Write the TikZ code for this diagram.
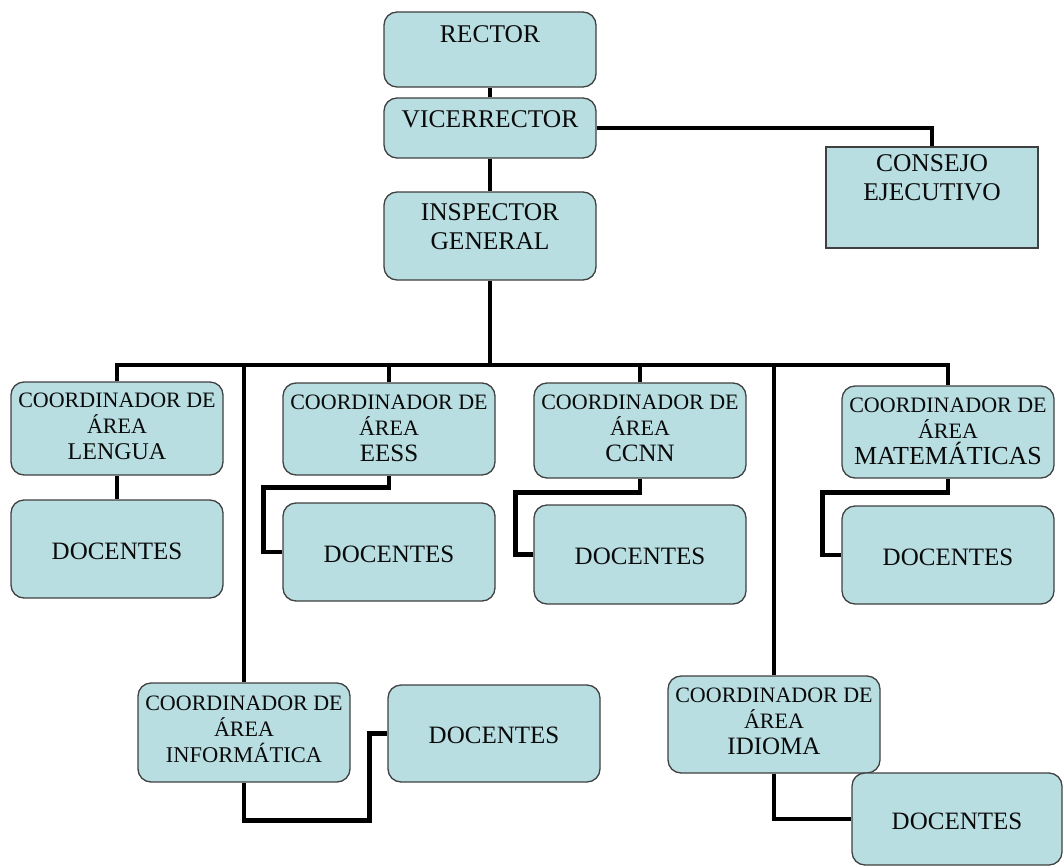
\documentclass[tikz,border=0pt]{standalone}
\usepackage{fontspec}
\setmainfont{Liberation Serif}
\definecolor{boxfill}{RGB}{184,222,226}
\definecolor{boxline}{RGB}{64,64,64}
\definecolor{txt}{RGB}{10,10,10}
\newcommand{\bxt}[4]{\parbox[c][#2][t]{#1}{\centering\vspace*{#3}#4\par}}
\newcommand{\bxc}[3]{\parbox[c][#2][c]{#1}{\centering\vspace*{4pt}#3\par}}
\newcommand{\bigf}{\fontsize{25.5}{29}\selectfont}
\newcommand{\coordf}{\fontsize{22}{26}\selectfont}
\newcommand{\docf}{\fontsize{25}{29}\selectfont}
\newcommand{\lastl}[2]{{\fontsize{#1}{26}\selectfont #2}}
\tikzset{
  orgbox/.style={draw=boxline, fill=boxfill, line width=1.3pt, rounded corners=13pt, inner sep=0pt, text=txt, anchor=center},
  sqbox/.style={orgbox, rounded corners=0pt},
  conn/.style={draw=black, line width=4.5pt}
}
\begin{document}
\begin{tikzpicture}[x=1pt,y=-1pt]
\useasboundingbox (0,0) rectangle (1064,867);
\coordinate (bus) at (0,365);
% ---------- top boxes ----------
\node[orgbox, font=\bigf] (rector) at (490,49.5) {\bxt{212pt}{75pt}{13.7pt}{RECTOR}};
\node[orgbox, font=\bigf] (vice) at (490,128) {\bxt{212pt}{60pt}{12.6pt}{VICERRECTOR}};
\node[orgbox, font=\bigf] (insp) at (490,236) {\bxt{212pt}{88pt}{11.7pt}{INSPECTOR\\GENERAL}};
\node[sqbox, font=\bigf] (consejo) at (932,197.5) {\bxt{212pt}{101pt}{7.7pt}{CONSEJO\\EJECUTIVO}};
% ---------- coordinators ----------
\node[orgbox, font=\coordf] (lenguaC) at (117,428.5) {\bxt{212pt}{93pt}{11pt}{COORDINADOR DE\\ÁREA\\\lastl{24}{LENGUA}}};
\node[orgbox, font=\coordf] (eessC) at (389,429) {\bxt{212pt}{92pt}{12pt}{COORDINADOR DE\\ÁREA\\\lastl{25}{EESS}}};
\node[orgbox, font=\coordf] (ccnnC) at (640,430.5) {\bxt{212pt}{95pt}{12pt}{COORDINADOR DE\\ÁREA\\\lastl{25}{CCNN}}};
\node[orgbox, font=\coordf] (matC) at (948,432) {\bxt{212pt}{92pt}{12pt}{COORDINADOR DE\\ÁREA\\\lastl{26}{MATEMÁTICAS}}};
\node[orgbox, font=\coordf] (infC) at (244,732.5) {\bxt{212pt}{99pt}{13pt}{COORDINADOR DE\\ÁREA\\\lastl{22.5}{INFORMÁTICA}}};
\node[orgbox, font=\coordf] (idiomaC) at (774,724.5) {\bxt{212pt}{97pt}{12pt}{COORDINADOR DE\\ÁREA\\\lastl{25}{IDIOMA}}};
% ---------- docentes ----------
\node[orgbox, font=\docf] (lenguaD) at (117,549) {\bxc{212pt}{98pt}{DOCENTES}};
\node[orgbox, font=\docf] (eessD) at (389,552) {\bxc{212pt}{98pt}{DOCENTES}};
\node[orgbox, font=\docf] (ccnnD) at (640,554.5) {\bxc{212pt}{99pt}{DOCENTES}};
\node[orgbox, font=\docf] (matD) at (948,555) {\bxc{212pt}{98pt}{DOCENTES}};
\node[orgbox, font=\docf] (infD) at (494,733.5) {\bxc{212pt}{97pt}{DOCENTES}};
% ---------- connectors ----------
\begin{scope}[line join=miter]
\draw[conn] (rector.south) -- (vice.north);
\draw[conn] (vice.south) -- (insp.north);
\draw[conn] (vice.east) -| (consejo.north);
\draw[conn] (insp.south) -- (insp.south |- bus);
\draw[conn] (lenguaC.north) -- (lenguaC.north |- bus) -- (matC.north |- bus) -- (matC.north);
\draw[conn] (eessC.north) -- (eessC.north |- bus);
\draw[conn] (ccnnC.north) -- (ccnnC.north |- bus);
\draw[conn] (infC.north) -- (infC.north |- bus);
\draw[conn] (idiomaC.north) -- (idiomaC.north |- bus);
\draw[conn] (lenguaC.south) -- (lenguaD.north);
\draw[conn] (eessC.south) -- ++(0,12) -| ([xshift=-19pt]eessD.west) -- (eessD.west);
\draw[conn] (ccnnC.south) -- ++(0,14) -| ([xshift=-18pt]ccnnD.west) -- (ccnnD.west);
\draw[conn] (matC.south) -- ++(0,14) -| ([xshift=-19pt]matD.west) -- (matD.west);
\draw[conn] (infC.south) -- ++(0,38) -| ([xshift=-18pt]infD.west) -- (infD.west);
\end{scope}
% idioma docentes drawn last (overlaps coordinator corner)
\node[orgbox, font=\docf] (idiomaD) at (957,819) {\bxc{210pt}{92pt}{DOCENTES}};
\draw[conn] (idiomaC.south) |- (idiomaD.west);
\end{tikzpicture}
\end{document}
